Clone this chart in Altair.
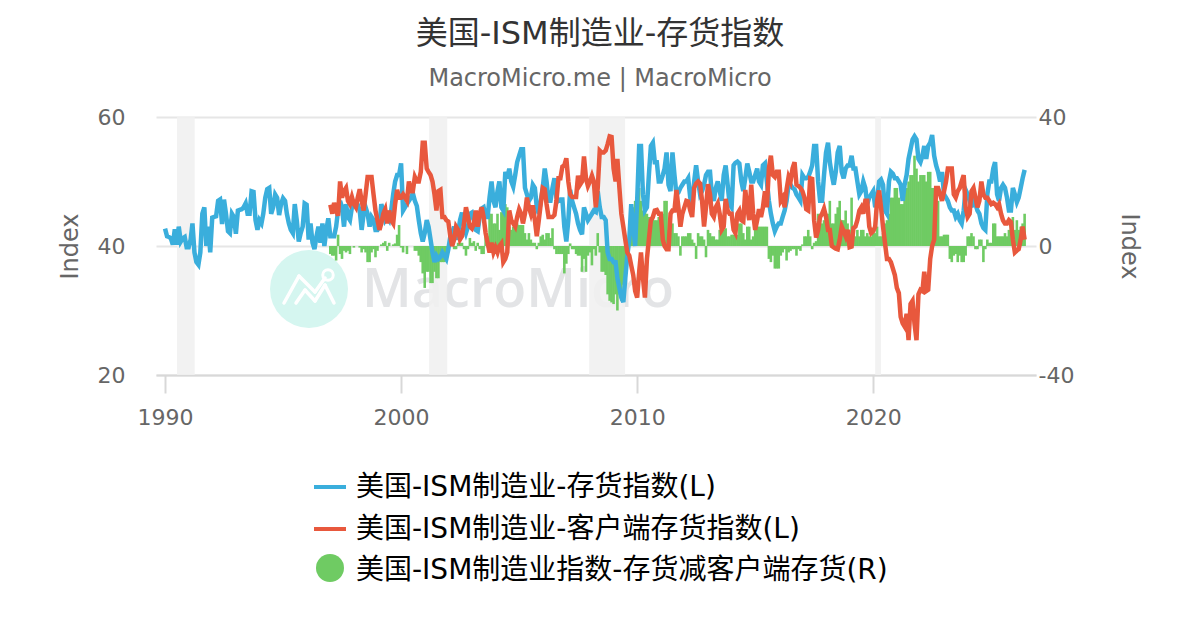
import altair as alt
import pandas as pd

FONT = "DejaVu Sans, Noto Sans CJK SC"

title_text = "美国-ISM制造业-存货指数"
subtitle_text = "MacroMicro.me | MacroMicro"
legend_names = ["美国-ISM制造业-存货指数(L)", "美国-ISM制造业-客户端存货指数(L)", "美国-ISM制造业指数-存货减客户端存货(R)"]
axis_title = "Index"
recession_start = ["1990-07-05", "2001-03-10", "2007-12-20", "2020-02-01"]
recession_end = ["1991-04-05", "2001-12-15", "2009-06-28", "2020-05-01"]
x_ticks = [1990, 2000, 2010, 2020]

blue = [
 42.7,41.5,41.4,41.2,40.2,42.6,40.2,43,40.7,41.2,41.4,39.8,
 39.8,41,43.5,39,37.5,37.1,39,45,46,40,43,39,
 44.4,44.5,44.6,47,47.2,43.4,47.2,45,42.3,42,45,44.5,
 41.9,45.5,45.6,45.7,46,46.6,45,45,48.5,48.4,44,42.5,
 44,43.5,45,47.5,48.8,49,45,46,48,47.5,44.8,46.5,
 47.4,47,45,43.5,42.5,42,46.5,44,40.7,42,43,46.6,
 46.4,41,43.5,40.5,39.5,41.5,43,40.5,43.5,40,42.5,44.3,
 41.5,41.5,41.5,43,45.5,47,46,43,46.5,44.5,44,46,
 46.5,46.6,46.4,45.5,42.5,45,46,45,43,44.5,44,42.5,
 42.5,43,46.5,45.5,44,44.5,44,45.5,48,50,51,51,
 52.8,45.5,46,46.5,47,47.5,48.2,47,46.2,44,42,40.7,
 42,44,43,41,39,37.5,38.5,38,38.3,39,38.5,38,
 39.5,41.5,42,43,41,42,44,45.2,43,42,43,45,
 45.2,44,42.5,42.3,44.5,45.8,46,44.5,44.5,47.5,50,47,
 46,48.5,50,46,45.5,51.5,50.5,52,50,49.2,51,53,
 54,55,55,49,48,47,47.5,49.5,49,46,45,47,
 49,52,50,47,47,49,50.5,47.5,47,47.2,47.2,43,
 40.7,44,48.7,47,46,45,43.5,42.5,41.8,46,45,44,
 44.5,45,45.5,45.3,48.5,46,44.5,44.5,44,39,38,38,
 37.5,37.5,35,33.5,32,31.3,35,38.5,41,46.5,43,40,
 47,55.5,55.5,48,45.5,46,51,55.5,56,53,53,50,
 50,51,52,54.5,49.5,48.5,54.5,51,48,48.3,49,49.5,
 50,50,50.5,47.5,46.5,50,52.5,50,48,48.5,49.5,51,
 51.5,51.5,48,47,49,50,48.5,47,51,52.5,49.5,46.5,
 46,52.5,52.9,53.1,52.8,50,48.5,50.5,52.8,51.5,50,50,
 51,52,50,49.5,52.5,52.8,50,47,45,43.5,42.3,43,
 43.5,43.5,44.5,45.5,47,49.5,49.5,49,48.8,48,47.5,47,
 51,50.5,50.5,50.7,51.5,52.5,55.5,55.5,50,47,47,51,
 54.5,56,53,51,49.5,51.5,54.5,55.5,51.5,50.5,52,52.5,
 52.5,54,52,52,50,48,48.5,50,49,46.5,47.5,48,
 48.5,46,47,50,50.3,49.5,45.5,45,50,51.5,51.2,50.5,
 50.5,50,49.5,47,49.5,51,53.5,55,56.5,57,56.5,53.5,
 53,54,55.5,53.5,55.5,56,57.2,54,52.5,51.5,50,51.5,
 48,47.5,47,46,45.5,45.5,44.5,45,44,43.5,45.5,48.7,
 48,47,46,47.5,46.5,45.5,45,43.5,42.8,42.5,48,50,
 50,52,53,48,47,49,49.5,49,47.5,45.5,45.5,49,
 48,46.8,47.5,49,50.5,51.8,
]
red = [
 46.4,45,46.7,45.5,44.7,50,47.5,48.5,49,47,46.5,47.6,
 46.5,46,47.5,48.8,47,45.5,48,50.7,50.7,50.7,48,45.5,
 44,42.5,43.5,45,45.7,43.5,45.5,44,43.5,46.5,48.7,47.5,
 47.5,48,47.5,47,50,48.5,48.5,50.7,50,50,51.5,56,
 56,52,51.5,51,50,48,45.5,48.5,48.7,44.5,44.5,44,
 43.8,41.5,40,41,43,42.5,41,41.5,43.5,46,44.5,43,
 42.7,43.5,45.5,43,45,46,44.5,42,40.5,39,40.5,39,
 39.8,39,40,40.4,37.5,38,39,45.5,44,43.5,43,44.5,
 45.7,45,43.5,45,47.5,46,45,46.3,44,41.5,44,46.5,
 49,48.8,46.5,44.5,44.5,44.5,44.8,47,50.5,50.5,52.3,52.5,
 53.6,50,48,47.6,47.6,47.6,50.9,49.5,50,53.9,50.5,49.3,
 50,50.9,50,46,49,54.8,54.5,54.5,54.8,55.8,57,56.9,
 52,50,53.5,49,45,43,41,39,38.5,37,35.5,33,
 32,36,39,35,32,38,41,44,44.5,45.5,45.6,45,
 45,41,40,39.5,39.5,45,45.5,45.5,48.7,46,43,45,
 46,47,46.9,45.5,44.5,49,49.7,50,49.7,47,43,46,
 49.6,48,45,44.5,46,46.6,45,42.5,43,47.3,45.5,45,
 45,42.5,42,45,45.5,44,43.8,48.7,46,44,49.5,45,
 42.5,44,45.7,44.5,46,48.5,46,52,54,51,50.7,51.5,
 51.5,47,47.5,46,48.8,50.7,50,52,53,49.5,49.3,49,
 48.5,47.5,45.7,45.5,50.5,50.4,44,41.3,42.5,44.5,45,45.8,
 44.5,42.5,42.5,40,39.8,39.6,39.5,41,43,42.3,41.5,42.5,
 39.8,39.9,42.8,43,44,45.5,46,45,47,47,43,42,
 42.3,43,47,48.6,46,43,40.5,38,38,37.5,36.5,35.5,
 33.5,32.7,29,28,27.5,29.5,25.4,31,31.5,28,25.4,32.5,
 33.2,33,36,33,33.2,38,40,41,49,49,48,47,
 48.5,50,52,52,52,48,47.5,48.5,49,50,51,46,
 44.5,45,48.5,49,47.5,46,47,50,48,47.5,47.5,47,
 46.5,46.7,46.5,46,46.5,45,44,43.5,43.5,44,43.7,41,
 39,39.3,39.5,41,43,41,
]
spread = [
 -2.5,-3,-3,-4.5,3.5,-2.5,-4,-1.5,-2,-1.5,-2.5,0,
 -0.5,0,0,-0.5,-2,-1,-2,-5,-5,-2,-1,-3.5,
 -1.5,0,0.5,1,1.5,-1.5,1,0,0.5,0.8,3.5,6.5,
 -0.5,-2,0,-2.5,0,0,0,-1.5,-1.5,-3,-5,-8.5,
 -13,-8,-8,-11.5,-11.5,-8,-10,-10,-5,-5,-5,-4,
 -1,1,1,-1,-1,1,1,1,-1,-3,-1,2.5,
 1,1.5,-1.5,1,-1,-2.5,-2.5,4,3,10,10,7,
 7,10,5,10.5,12,13,12,6,5,6,7,7,
 6.5,6.5,6.5,4,2,4,2,1,1,-1,1,3,
 3.5,2,4,4,2.5,5.5,-1,-2.5,-2.5,-2.5,-2.5,-8.5,
 -5.5,-2.5,0.8,-1,-1,-2.5,-3,-3,-8,-4,-8,-3,
 -2,-6,-1,-3,4,-2,-8,-8,-9,-15,-17,-17.5,
 -18,-15,-20,-15,-17,-12,-7,-2,1,8,12,14,
 13,18,14,11,11,10,9,8,9,8,8,9,
 9,10,14,14,5,4,7,4,4,3,-3,3,
 3,3,4,4,2,1,-4,4,3,3,2,-3.5,
 5,4,3,3,2,2,5,5.5,5,5.5,3,3,
 3.5,3.5,3.5,3.5,7,7,4,2,6,6,2,3,
 6,6,6,6,6,6,6,-4,-5,-3,-7,-7,
 -7,-3,-2,-1,-4.5,-2,-1.5,-1,-1,-3,-1,-1.5,
 0.5,3,3,5,3,-1,1,1.5,10,8,7,8,
 10,10,14,7,7,10,12,14,8,8,11,7,
 5,15,5,3,5,3,5,5,3,4,3,3,
 4,4,6,3,3,4,7,8,10,15,15,18,
 18,15,13,13,18,18,20,22,22,28,24,20,
 22,22,22,20,23,23,18,18,14,14,3,3,
 3.5,3.5,3.5,-4,-5,-3,-2.5,-5,-3,-5,-5,-3,
 3,3,4,3,-1,-1,2,2,-5,-1,2,1,
 1,7,7,3,3,3,3,4,3,5,8,9,
 5,8,5,6,7,10,
]

df_blue = pd.DataFrame({"d": pd.date_range("1990-01-01", periods=len(blue), freq="MS").strftime("%Y-%m-%d"), "v": blue})
df_red = pd.DataFrame({"d": pd.date_range("1997-01-01", periods=len(red), freq="MS").strftime("%Y-%m-%d"), "v": red})
df_bar = pd.DataFrame({"d": pd.date_range("1997-01-01", periods=len(spread), freq="MS").strftime("%Y-%m-%d"), "v": spread})
df_rec = pd.DataFrame({"s": recession_start, "e": recession_end})
one = pd.DataFrame({"a": [0]})

x_scale = alt.Scale(domain=["1989-08-14", "2026-11-24"], padding=0)
x_axis = alt.Axis(values=[alt.DateTime(year=y) for y in x_ticks], format="%Y", title=None, grid=False,
                  domain=True, domainColor="#d8d8d8", domainWidth=2, tickColor="#d8d8d8", tickWidth=2,
                  tickSize=18, labelFontSize=22, labelColor="#666666", labelFont=FONT, labelPadding=14)
X = alt.X("d:T", scale=x_scale, axis=x_axis)

bands = alt.Chart(df_rec).mark_rect(color="#f0f0f0", opacity=0.88).encode(
    x=alt.X("s:T", scale=x_scale, axis=x_axis), x2="e:T")

def abs_x(v): return alt.value(v - 156)
def abs_y(v): return alt.value(v - 117)

def seg(x1, y1, x2, y2):
    return alt.Chart(one).mark_rule(color="#ffffff", strokeWidth=3.5, strokeCap="round").encode(
        x=abs_x(x1), x2=abs_x(x2), y=abs_y(y1), y2=abs_y(y2))

wm = [
    alt.Chart(one).mark_point(filled=True, color="#d5f6f0", opacity=1, size=6084).encode(x=abs_x(309), y=abs_y(289)),
    seg(284, 303, 299, 276), seg(299, 276, 315, 292), seg(315, 292, 325, 278),
    seg(296, 303, 305, 290), seg(305, 290, 315, 301), seg(315, 301, 325, 285), seg(325, 285, 334, 303),
    alt.Chart(one).mark_point(filled=False, color="#ffffff", strokeWidth=3, opacity=1, size=110).encode(x=abs_x(328), y=abs_y(275)),
    alt.Chart(pd.DataFrame({"t": ["MacroMicro"]})).mark_text(
        font="Open Sans", fontSize=54, fontWeight=600, color="#e3e4e6", align="left", baseline="middle"
    ).encode(x=abs_x(362), y=abs_y(291), text="t:N"),
]

bars = alt.Chart(df_bar).mark_bar(color="#6fcb63", width=2.6).encode(
    x=X,
    y=alt.Y("v:Q", scale=alt.Scale(domain=[-40, 40]),
            axis=alt.Axis(orient="right", values=[-40, 0, 40], labelExpr="'' + datum.value", grid=False,
                          domain=False, ticks=False,
                          title=axis_title, titleFontSize=24, titleFontWeight="normal", titleColor="#666666",
                          titleFont=FONT, titlePadding=43, labelFontSize=22, labelColor="#666666",
                          labelFont=FONT, labelPadding=2)))

y_left = alt.Y("v:Q", scale=alt.Scale(domain=[20, 60]),
               axis=alt.Axis(values=[20, 40, 60], grid=True, gridColor="#e6e6e6", gridWidth=2, domain=False,
                             ticks=False, title=axis_title, titleFontSize=24, titleFontWeight="normal",
                             titleColor="#666666", titleFont=FONT, titlePadding=15, labelFontSize=22,
                             labelColor="#666666", labelFont=FONT, labelPadding=31))
y_hidden = alt.Y("v:Q", scale=alt.Scale(domain=[20, 60]), axis=None)

line_blue = alt.Chart(df_blue).mark_line(color="#3aaedc", strokeWidth=4.5).encode(x=X, y=y_left)
line_red = alt.Chart(df_red).mark_line(color="#e8583d", strokeWidth=4.5).encode(x=X, y=y_hidden)

def text(t, x, y, size, color, align="left"):
    return alt.Chart(pd.DataFrame({"t": [t]})).mark_text(
        font=FONT, fontSize=size, color=color, align=align, baseline="middle"
    ).encode(x=abs_x(x), y=abs_y(y), text="t:N")

def swatch(y, color):
    return alt.Chart(one).mark_rule(color=color, strokeWidth=4).encode(
        x=abs_x(314), x2=abs_x(346), y=abs_y(y), y2=abs_y(y))

deco = [
    text(title_text, 600, 34, 32, "#333333", "center"),
    text(subtitle_text, 600, 79, 24, "#666666", "center"),
    swatch(487, "#3aaedc"),
    swatch(529, "#e8583d"),
    alt.Chart(one).mark_point(filled=True, opacity=1, color="#6fcb63", size=784).encode(x=abs_x(330), y=abs_y(568)),
    text(legend_names[0], 356, 488, 28, "#000000"),
    text(legend_names[1], 356, 530, 28, "#000000"),
    text(legend_names[2], 356, 571, 28, "#000000"),
]

chart = alt.layer(
    *wm, bands, bars, line_blue, line_red, *deco
).resolve_scale(y="independent").properties(
    width=880, height=258,
    padding={"left": 148, "top": 109, "right": 156, "bottom": 240},
    autosize=alt.AutoSizeParams(type="none"),
).configure_view(stroke=None)

chart.save("out.html", embed_options={"renderer": "svg", "actions": False})
